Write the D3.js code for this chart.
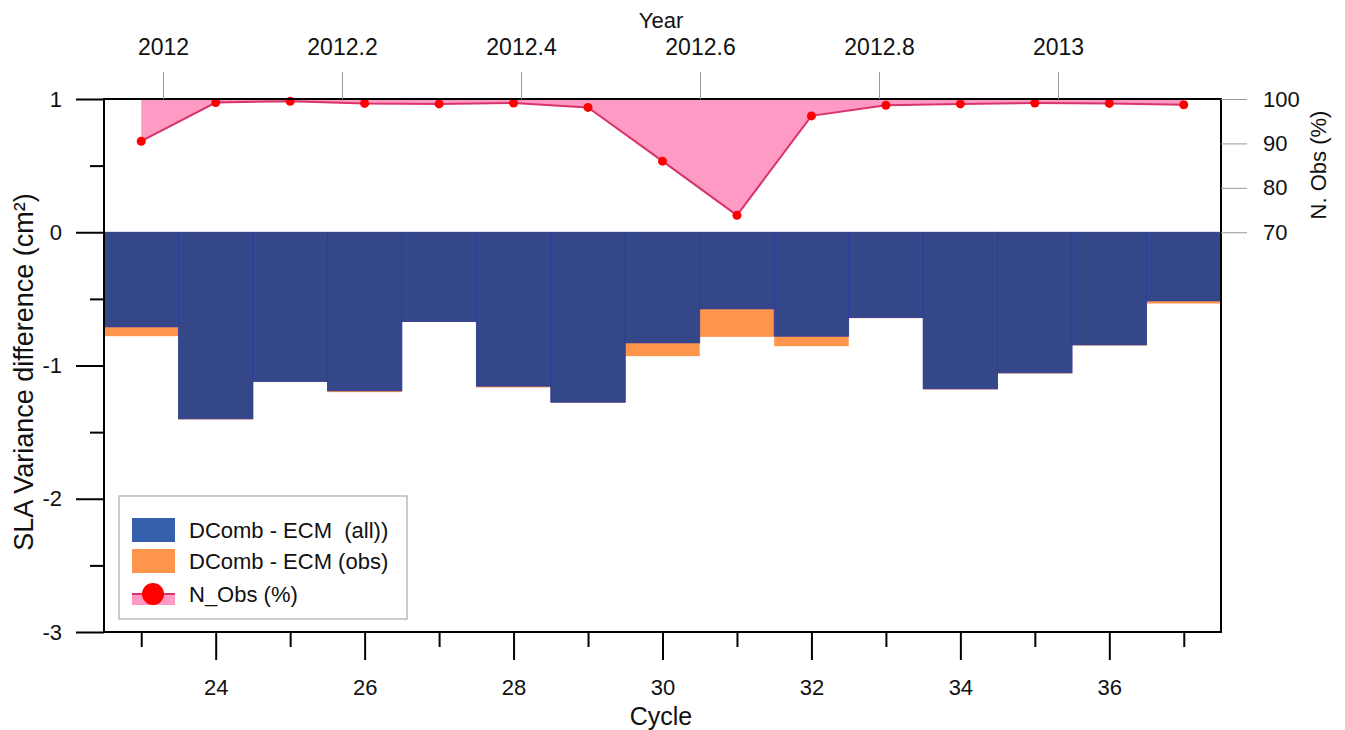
<!DOCTYPE html>
<html><head><meta charset="utf-8">
<script src="https://cdn.jsdelivr.net/npm/d3@7"></script>
<style>body{margin:0;background:#fff}svg{display:block;font-family:"Liberation Sans",Arial,sans-serif}</style>
</head><body>
<svg id="c" width="1345" height="730"></svg>
<script>
const cycles = [23,24,25,26,27,28,29,30,31,32,33,34,35,36,37];
const diffAll = [-0.71,-1.40,-1.12,-1.19,-0.67,-1.155,-1.275,-0.83,-0.575,-0.78,-0.64,-1.175,-1.055,-0.845,-0.515];
const diffObs = [-0.78,-1.405,-1.12,-1.20,-0.672,-1.165,-1.28,-0.93,-0.785,-0.855,-0.645,-1.18,-1.06,-0.85,-0.535];
const nObs = [90.5,99.2,99.5,99.0,98.9,99.1,98.1,86.0,73.8,96.2,98.6,98.9,99.1,99.0,98.7];
const leftTicks = [1,0,-1,-2,-3];
const leftMinor = [0.5,-0.5,-1.5,-2.5];
const rightTicks = [100,90,80,70];
const cycleMajor = [24,26,28,30,32,34,36];
const cycleMinor = [23,25,27,29,31,33,35,37];
const yearTicks = [2012,2012.2,2012.4,2012.6,2012.8,2013];
const legendLabels = ["DComb - ECM  (all))","DComb - ECM (obs)","N_Obs (%)"];

const L=104,R=1221,T=99,B=632;
const svg=d3.select("#c");
const x=d3.scaleLinear().domain([22.5,37.5]).range([L,R]);
const y=d3.scaleLinear().domain([-3,1]).range([B,T]);
const yR=d3.scaleLinear().domain([70,100]).range([y(0),T]);
const xYear=d3.scaleLinear().domain([2012,2013]).range([163,1058]);
const FS=22;
const FF="Liberation Sans, Arial, sans-serif";

// N_Obs area + line
const pts=cycles.map((c,i)=>({c,v:nObs[i]}));
svg.append("path").datum(pts)
  .attr("d",d3.area().x(d=>x(d.c)).y0(yR(100)).y1(d=>yR(d.v)))
  .attr("fill","#ff9ac4");
svg.append("path").datum(pts)
  .attr("d",d3.line().x(d=>x(d.c)).y(d=>yR(d.v)))
  .attr("fill","none").attr("stroke","#d8336a").attr("stroke-width",2);
svg.selectAll("circle.pt").data(pts).join("circle").attr("class","pt")
  .attr("cx",d=>x(d.c)).attr("cy",d=>yR(d.v)).attr("r",4.5).attr("fill","#ff0000");

// bars: obs behind, all in front
svg.selectAll("rect.obs").data(cycles).join("rect").attr("class","obs")
  .attr("x",c=>x(c-0.5)).attr("width",c=>x(c+0.5)-x(c-0.5))
  .attr("y",y(0)).attr("height",(c,i)=>y(diffObs[i])-y(0))
  .attr("fill","#fd954c");
svg.selectAll("rect.all").data(cycles).join("rect").attr("class","all")
  .attr("x",c=>x(c-0.5)).attr("width",c=>x(c+0.5)-x(c-0.5))
  .attr("y",y(0)).attr("height",(c,i)=>y(diffAll[i])-y(0))
  .attr("fill","#334789").attr("stroke","#2a3aa0").attr("stroke-width",0.8);

// frame
svg.append("rect").attr("x",L).attr("y",T).attr("width",R-L).attr("height",B-T)
  .attr("fill","none").attr("stroke","#000").attr("stroke-width",2);

// left axis
const gL=svg.append("g").attr("transform",`translate(${L},0)`);
gL.call(d3.axisLeft(y).tickValues(leftTicks).tickSize(28).tickPadding(14).tickFormat(d=>String(d)));
gL.append("g").call(d3.axisLeft(y).tickValues(leftMinor).tickSize(14).tickFormat(""));
gL.selectAll(".domain").remove();
gL.selectAll("line").attr("stroke","#000").attr("stroke-width",2);
gL.selectAll("text").attr("font-size",FS).attr("fill","#111").attr("font-family",FF);
svg.append("text").attr("transform","translate(33,372) rotate(-90)").attr("text-anchor","middle")
  .attr("font-size",27).attr("fill","#111").text("SLA Variance difference (cm²)");

// right axis
const gR=svg.append("g").attr("transform",`translate(${R},0)`);
gR.call(d3.axisRight(yR).tickValues(rightTicks).tickSize(26).tickPadding(16).tickFormat(d=>String(d)));
gR.selectAll(".domain").remove();
gR.selectAll("line").attr("stroke","#999").attr("stroke-width",1);
gR.selectAll("text").attr("font-size",FS).attr("fill","#111").attr("font-family",FF);
svg.append("text").attr("transform","translate(1326,165) rotate(-90)").attr("text-anchor","middle")
  .attr("font-size",FS).attr("fill","#111").text("N. Obs (%)");

// bottom axis
const gB=svg.append("g").attr("transform",`translate(0,${B})`);
gB.call(d3.axisBottom(x).tickValues(cycleMajor).tickSize(28).tickPadding(19).tickFormat(d=>String(d)));
gB.append("g").call(d3.axisBottom(x).tickValues(cycleMinor).tickSize(15).tickFormat(""));
gB.selectAll(".domain").remove();
gB.selectAll("line").attr("stroke","#000").attr("stroke-width",2);
gB.selectAll("text").attr("font-size",FS).attr("fill","#111").attr("font-family",FF);
svg.append("text").attr("x",661).attr("y",725).attr("text-anchor","middle")
  .attr("font-size",25).attr("fill","#111").text("Cycle");

// top axis
const gT=svg.append("g").attr("transform",`translate(0,${T})`);
gT.call(d3.axisTop(xYear).tickValues(yearTicks).tickSize(27).tickPadding(17).tickFormat(d=>String(+d.toFixed(1))));
gT.selectAll(".domain").remove();
gT.selectAll("line").attr("stroke","#999").attr("stroke-width",1);
gT.selectAll("text").attr("font-size",FS+1).attr("fill","#111").attr("font-family",FF);
svg.append("text").attr("x",661).attr("y",28).attr("text-anchor","middle")
  .attr("font-size",FS).attr("fill","#111").text("Year");

// legend
const lg=svg.append("g");
lg.append("rect").attr("x",119).attr("y",496).attr("width",288).attr("height",123)
  .attr("fill","#fff").attr("stroke","#aaa").attr("stroke-width",1.2);
const ly=[530,561,594];
lg.append("rect").attr("x",132).attr("y",ly[0]-12).attr("width",43).attr("height",24).attr("fill","#365fae");
lg.append("rect").attr("x",132).attr("y",ly[1]-12).attr("width",43).attr("height",24).attr("fill","#fd954c");
lg.append("rect").attr("x",132).attr("y",ly[2]).attr("width",43).attr("height",11).attr("fill","#ff9ac4");
lg.append("line").attr("x1",132).attr("x2",175).attr("y1",ly[2]).attr("y2",ly[2]).attr("stroke","#d8336a").attr("stroke-width",2);
lg.append("circle").attr("cx",153).attr("cy",ly[2]).attr("r",11).attr("fill","#ff0000");
lg.selectAll("text").data(legendLabels).join("text")
  .attr("x",189).attr("y",(d,i)=>ly[i]).attr("dy","0.36em")
  .attr("font-size",22).attr("fill","#111").style("white-space","pre").text(d=>d);
</script>
</body></html>
